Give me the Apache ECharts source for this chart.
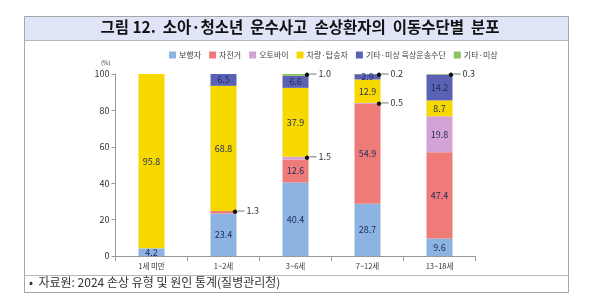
<!DOCTYPE html>
<html><head><meta charset="utf-8">
<script src="https://cdn.jsdelivr.net/npm/echarts@6/dist/echarts.min.js"></script>
<style>html,body{margin:0;padding:0;background:#fff}#c{width:600px;height:306px}</style>
</head><body><div id="c"></div>
<script>
const categories = ['1세 미만', '1~2세', '3~6세', '7~12세', '13~18세'];
const seriesNames = ['보행자', '자전거', '오토바이', '차량·탑승자', '기타·미상 육상운송수단', '기타·미상'];
const pedestrian = [4.2, 23.4, 40.4, 28.7, 9.6];
const bicycle = [0, 1.3, 12.6, 54.9, 47.4];
const motorcycle = [0, 0, 1.5, 0.5, 19.8];
const vehicle = [95.8, 68.8, 37.9, 12.9, 8.7];
const otherLand = [0, 6.5, 6.6, 2.9, 14.2];
const unknown = [0, 0, 1.0, 0.2, 0.3];
const yTicks = [0, 20, 40, 60, 80, 100];
const colors = ['#8db3e2', '#ee7b78', '#d3a3d6', '#f7d900', '#5b62b5', '#8cc15f'];

const FONT = '"Noto Sans CJK KR", "Noto Sans", sans-serif';
const values = [pedestrian, bicycle, motorcycle, vehicle, otherLand, unknown];

function items(arr) {
  return arr.map(v => {
    if (v === 0) return { value: v, label: { show: false } };
    if (v < 2) return {
      value: v,
      label: {
        show: true, position: ['100%', 0], offset: [-4, 0], align: 'left', verticalAlign: 'middle',
        formatter: '{d|●}{l|}{t|' + v.toFixed(1) + '}',
        rich: {
          d: { fontSize: 5, color: '#111' },
          l: { width: 7, height: 1, backgroundColor: '#777' },
          t: { fontSize: 9, color: '#333', padding: [0, 0, 0, 2], fontFamily: FONT }
        }
      }
    };
    return { value: v };
  });
}

const chart = echarts.init(document.getElementById('c'), null, { renderer: 'canvas' });
chart.setOption({
  animation: false,
  color: colors,
  textStyle: { fontFamily: FONT },
  graphic: [
    { type: 'rect', shape: { x: 24.5, y: 16.5, width: 544, height: 24 }, style: { fill: '#dfe4f6', stroke: null }, z: -1 },
    { type: 'rect', shape: { x: 24.5, y: 16.5, width: 544, height: 276 }, style: { fill: 'none', stroke: '#a6a6a6', lineWidth: 1 } },
    { type: 'line', shape: { x1: 24.5, y1: 40.5, x2: 568.5, y2: 40.5 }, style: { stroke: '#b8b8b8', lineWidth: 1 } },
    { type: 'line', shape: { x1: 24.5, y1: 275.5, x2: 568.5, y2: 275.5 }, style: { stroke: '#b8b8b8', lineWidth: 1 } },
    { type: 'text', left: 'center', top: 19, style: { text: '그림 12.  소아·청소년  운수사고  손상환자의  이동수단별  분포', font: 'bold 15.5px ' + FONT, fill: '#111' } },
    { type: 'text', left: 29, top: 276, style: { text: '•  자료원: 2024 손상 유형 및 원인 통계(질병관리청)', font: '12px ' + FONT, fill: '#333' } },
    { type: 'text', left: 101, top: 60, style: { text: '(%)', font: '6px ' + FONT, fill: '#444' } }
  ],
  legend: {
    top: 46, left: 164, itemWidth: 7, itemHeight: 7, itemGap: 8, icon: 'rect',
    textStyle: { fontSize: 8, color: '#444', fontFamily: FONT, padding: [0, 0, 0, -2] },
    data: seriesNames
  },
  grid: { left: 115.5, right: 124.5, top: 74, bottom: 50, containLabel: false },
  xAxis: {
    type: 'category', data: categories,
    axisLine: { lineStyle: { color: '#999' } },
    axisTick: { show: true, length: 5, lineStyle: { color: '#999' } },
    axisLabel: { fontSize: 7.5, color: '#333', margin: 6, fontFamily: FONT }
  },
  yAxis: {
    type: 'value', min: yTicks[0], max: yTicks[yTicks.length - 1], interval: 20,
    axisLine: { show: true, lineStyle: { color: '#999' } },
    axisTick: { show: true, length: 4, lineStyle: { color: '#999' } },
    splitLine: { show: false },
    axisLabel: { fontSize: 9, color: '#333', margin: 6, fontFamily: FONT }
  },
  series: seriesNames.map((name, i) => ({
    name, type: 'bar', stack: 'total', barWidth: 26,
    data: items(values[i]),
    label: { show: true, position: 'inside', fontSize: 9, color: '#1d2b5c', fontFamily: FONT,
      formatter: p => p.value.toFixed(1) }
  }))
});
</script></body></html>
